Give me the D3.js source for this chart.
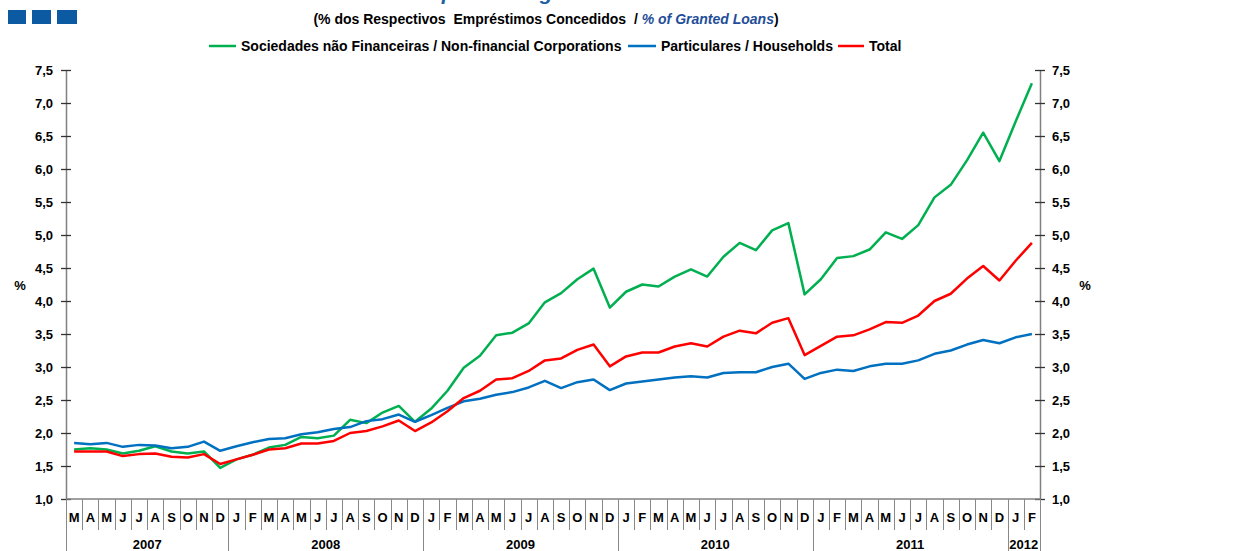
<!DOCTYPE html>
<html><head><meta charset="utf-8">
<script src="https://cdn.jsdelivr.net/npm/d3@7"></script>
<style>
html,body{margin:0;padding:0;background:#fff;overflow:hidden}
text{font-family:"Liberation Sans",Arial,sans-serif;font-weight:bold}
</style></head>
<body>
<svg id="c" width="1248" height="551"></svg>
<script>
// ---- data ----
const monthLabels = ["M","A","M","J","J","A","S","O","N","D",
  "J","F","M","A","M","J","J","A","S","O","N","D",
  "J","F","M","A","M","J","J","A","S","O","N","D",
  "J","F","M","A","M","J","J","A","S","O","N","D",
  "J","F","M","A","M","J","J","A","S","O","N","D",
  "J","F"];
const yearLabels = ["2007","2008","2009","2010","2011","2012"];
const yearMonthCounts = [10,12,12,12,12,2];
const yTicks = [1.0,1.5,2.0,2.5,3.0,3.5,4.0,4.5,5.0,5.5,6.0,6.5,7.0,7.5];

const nonFinancial = [1.75,1.77,1.75,1.69,1.73,1.80,1.72,1.69,1.72,1.47,
  1.60,1.67,1.78,1.82,1.94,1.92,1.96,2.20,2.15,2.31,2.41,2.17,
  2.37,2.64,2.99,3.17,3.48,3.52,3.66,3.98,4.12,4.33,4.49,3.90,
  4.14,4.25,4.22,4.37,4.48,4.37,4.67,4.88,4.77,5.07,5.18,4.10,
  4.33,4.65,4.68,4.78,5.04,4.94,5.15,5.57,5.76,6.13,6.55,6.12,
  6.72,7.30];
const households = [1.85,1.83,1.85,1.79,1.82,1.81,1.77,1.79,1.87,1.73,
  1.80,1.86,1.91,1.92,1.98,2.01,2.06,2.09,2.18,2.21,2.28,2.17,
  2.27,2.38,2.48,2.52,2.58,2.62,2.69,2.79,2.68,2.77,2.81,2.65,
  2.75,2.78,2.81,2.84,2.86,2.84,2.91,2.92,2.92,3.00,3.05,2.82,
  2.91,2.96,2.94,3.01,3.05,3.05,3.10,3.20,3.25,3.34,3.41,3.36,
  3.45,3.50];
const total = [1.72,1.72,1.72,1.65,1.68,1.69,1.64,1.63,1.68,1.53,
  1.60,1.67,1.75,1.77,1.84,1.84,1.88,2.00,2.03,2.10,2.19,2.03,
  2.16,2.33,2.53,2.64,2.81,2.83,2.94,3.10,3.13,3.26,3.34,3.01,
  3.16,3.22,3.22,3.31,3.36,3.31,3.46,3.55,3.51,3.67,3.74,3.18,
  3.32,3.46,3.48,3.57,3.68,3.67,3.78,4.00,4.11,4.34,4.53,4.31,
  4.61,4.88];

const seriesNames = ["Sociedades não Financeiras / Non-financial Corporations","Particulares / Households","Total"];
const seriesColors = ["#00b050","#0070c0","#ff0000"];

// ---- layout ----
const svg = d3.select("#c");
const L = 66, R = 1040, T = 70, B = 499;
const idx = d3.range(monthLabels.length);
const x = d3.scaleBand().domain(idx).range([L, R]).padding(0);
const y = d3.scaleLinear().domain([1, 7.5]).range([B, T]);

// title (clipped at top edge, as in the reference)
svg.append("text").attr("x", 394).attr("y", 0)
  .style("font-size","21px").style("font-style","italic").attr("fill","#1f5fa8")
  .text("Non-performing Granted Loans");

// blue squares
[[8,18],[32,19],[57,20]].forEach(d=>{
  svg.append("rect").attr("x",d[0]).attr("y",10).attr("width",d[1]).attr("height",14).attr("fill","#0b5aa2");
});

// subtitle
const sub = svg.append("text").attr("x", 546).attr("y", 24).attr("text-anchor","middle")
  .style("font-size","14px").style("white-space","pre").attr("fill","#000");
sub.append("tspan").text("(% dos Respectivos  Empréstimos Concedidos  / ");
sub.append("tspan").attr("fill","#1f4e99").style("font-style","italic").text("% of Granted Loans");
sub.append("tspan").text(")");

// legend
const legendPos = [[209,241],[628,661],[838,869]];
seriesNames.forEach((n,i)=>{
  svg.append("line").attr("x1",legendPos[i][0]).attr("x2",legendPos[i][1]-5).attr("y1",46).attr("y2",46)
    .attr("stroke",seriesColors[i]).attr("stroke-width",2.5);
  svg.append("text").attr("x",legendPos[i][1]).attr("y",51).style("font-size","14px").attr("fill","#000").text(n);
});

// y axes
const fmt = d => d.toFixed(1).replace(".", ",");
const yl = svg.append("g").attr("transform",`translate(${L},0)`)
  .call(d3.axisLeft(y).tickValues(yTicks).tickFormat(fmt).tickSize(5).tickSizeOuter(0));
const yr = svg.append("g").attr("transform",`translate(${R},0)`)
  .call(d3.axisRight(y).tickValues(yTicks).tickFormat(fmt).tickSize(5).tickSizeOuter(0));
[yl,yr].forEach((g,k)=>{
  g.select(".domain").attr("stroke","#808080").attr("stroke-width",1.5);
  g.selectAll(".tick line").attr("stroke","#333").attr("x1", 5).attr("x2",-5).attr("stroke-width",1.3);
  g.selectAll(".tick text").style("font-size","13px").style("font-family","Liberation Sans, Arial").style("font-weight","bold")
    .attr("fill","#000").attr("x", k===0 ? -13 : 12);
});
svg.append("text").attr("x",20).attr("y",290).attr("text-anchor","middle").style("font-size","13px").text("%");
svg.append("text").attr("x",1085).attr("y",290).attr("text-anchor","middle").style("font-size","13px").text("%");

// x axis baseline
svg.append("line").attr("x1",L).attr("x2",R).attr("y1",B).attr("y2",B).attr("stroke","#808080").attr("stroke-width",1.5);

// month separators
const yearStarts = [];
let acc = 0; yearMonthCounts.forEach(c=>{ yearStarts.push(acc); acc += c; });
d3.range(monthLabels.length + 1).forEach(i=>{
  const xx = Math.round(i < monthLabels.length ? x(i) : R) + 0.5;
  const isYear = yearStarts.includes(i) || i === monthLabels.length;
  svg.append("line").attr("x1",xx).attr("x2",xx).attr("y1",B).attr("y2", isYear ? 551 : 530)
    .attr("stroke","#888").attr("stroke-width",1);
});
// month labels
svg.append("g").selectAll("text").data(idx).join("text")
  .attr("x", i => x(i) + x.bandwidth()/2).attr("y", 522).attr("text-anchor","middle")
  .style("font-size","13px").attr("fill","#000").text(i => monthLabels[i]);
// year labels
yearLabels.forEach((yl_, k)=>{
  const s = yearStarts[k], e = s + yearMonthCounts[k];
  const cx = (x(s) + (e < monthLabels.length ? x(e) : R)) / 2;
  svg.append("text").attr("x", cx).attr("y", 549).attr("text-anchor","middle").style("font-size","13px").text(yl_);
});

// lines
const line = d3.line().x((d,i)=> x(i) + x.bandwidth()/2).y(d => y(d));
[nonFinancial, households, total].forEach((s,i)=>{
  svg.append("path").datum(s).attr("d", line).attr("fill","none")
    .attr("stroke", seriesColors[i]).attr("stroke-width",2.5).attr("stroke-linejoin","round");
});
</script>
</body></html>
